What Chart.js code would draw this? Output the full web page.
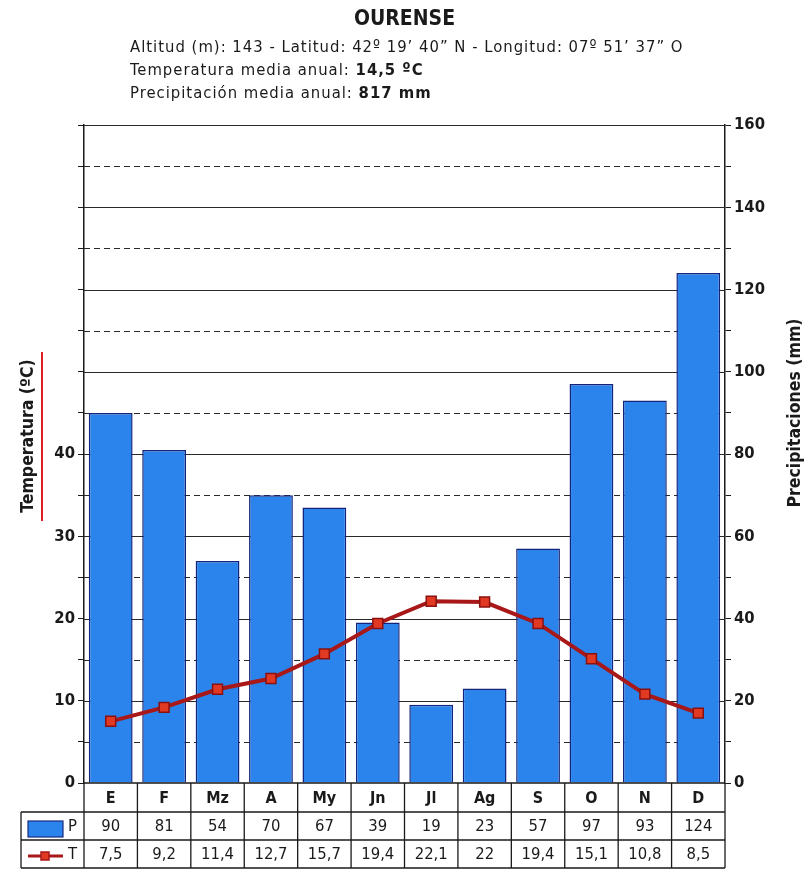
<!DOCTYPE html>
<html>
<head>
<meta charset="utf-8">
<script src="https://cdn.jsdelivr.net/npm/chart.js@4.4.0/dist/chart.umd.min.js"></script>
<style>
  html, body { margin: 0; padding: 0; background: #fff; }
  body { width: 809px; height: 869px; position: relative; overflow: hidden; font-family: "DejaVu Sans Condensed", "DejaVu Sans", sans-serif; color: #1a1a1a; }
  #head { position: absolute; left: 0; top: 0; width: 809px; }
  #head h1 { margin: 0; position: absolute; top: 6px; width: 809px; text-align: center; font-size: 21px; font-weight: bold; }
  #head .ln { position: absolute; left: 130px; font-size: 16.5px; letter-spacing: 1px; white-space: nowrap; }
  #wrap { position: absolute; left: 0; top: 0; width: 809px; height: 869px; }
</style>
</head>
<body>
<div id="wrap"><canvas id="chart"></canvas></div>
<div id="head">
  <h1>OURENSE</h1>
  <div class="ln" style="top:37px">Altitud (m): 143 - Latitud: 42º 19’ 40” N - Longitud: 07º 51’ 37” O</div>
  <div class="ln" style="top:60px">Temperatura media anual: <b>14,5 ºC</b></div>
  <div class="ln" style="top:83px">Precipitación media anual: <b>817 mm</b></div>
</div>
<script>
// climograma Ourense
const months = ["E", "F", "Mz", "A", "My", "Jn", "Jl", "Ag", "S", "O", "N", "D"];
const precip = [90, 81, 54, 70, 67, 39, 19, 23, 57, 97, 93, 124];
const temp = [7.5, 9.2, 11.4, 12.7, 15.7, 19.4, 22.1, 22, 19.4, 15.1, 10.8, 8.5];
const tempTicks = [0, 10, 20, 30, 40];
const precipTicks = [0, 20, 40, 60, 80, 100, 120, 140, 160];

const FONT = '"DejaVu Sans Condensed", "DejaVu Sans", sans-serif';
const BAR = "#2b84ec";
const LINE = "#a81818";

function fmt(v) {
  return String(v).replace(".", ",");
}

// horizontal grid: solid every 20 mm, dashed in between
const gridPlugin = {
  id: "grid",
  beforeDatasetsDraw(chart) {
    const { ctx, chartArea } = chart;
    const y = chart.scales.yP;
    ctx.save();
    ctx.strokeStyle = "#2a2a2a";
    ctx.lineWidth = 1.2;
    for (let v = 10; v <= 160; v += 10) {
      const py = Math.round(y.getPixelForValue(v)) + 0.5;
      ctx.setLineDash(v % 20 === 0 ? [] : [6, 4]);
      ctx.beginPath();
      ctx.moveTo(chartArea.left, py);
      ctx.lineTo(chartArea.right, py);
      ctx.stroke();
    }
    ctx.restore();
  }
};

// data table under the chart + axis titles
const tablePlugin = {
  id: "table",
  afterDraw(chart) {
    const { ctx, chartArea } = chart;
    const x = chart.scales.x;
    const half = (chartArea.right - chartArea.left) / months.length / 2;
    const r0 = chartArea.bottom, r1 = r0 + 29, r2 = r1 + 28, r3 = 868;
    const legL = 21;

    ctx.save();
    ctx.strokeStyle = "#1a1a1a";
    ctx.lineWidth = 1.3;
    ctx.setLineDash([]);
    ctx.beginPath();
    ctx.moveTo(chartArea.left, r0); ctx.lineTo(chartArea.right, r0);
    ctx.moveTo(legL, r1); ctx.lineTo(chartArea.right, r1);
    ctx.moveTo(legL, r2); ctx.lineTo(chartArea.right, r2);
    ctx.moveTo(legL, r3); ctx.lineTo(chartArea.right, r3);
    ctx.moveTo(legL, r1); ctx.lineTo(legL, r3);
    ctx.stroke();
    ctx.beginPath();
    for (let i = 0; i <= months.length; i++) {
      const px = i < months.length ? x.getPixelForValue(i) - half : x.getPixelForValue(months.length - 1) + half;
      ctx.moveTo(px, r0); ctx.lineTo(px, r3);
    }
    ctx.stroke();

    ctx.textAlign = "center";
    ctx.textBaseline = "middle";
    ctx.fillStyle = "#1a1a1a";
    months.forEach((m, i) => {
      const px = x.getPixelForValue(i);
      ctx.font = "bold 16px " + FONT;
      ctx.fillText(m, px, (r0 + r1) / 2 + 1);
      ctx.font = "16.5px " + FONT;
      ctx.fillText(String(precip[i]), px, (r1 + r2) / 2 + 1);
      ctx.fillText(fmt(temp[i]), px, (r2 + r3) / 2 + 1);
    });

    // legend keys
    ctx.fillStyle = BAR;
    ctx.strokeStyle = "#1a2a80";
    ctx.lineWidth = 1.2;
    ctx.fillRect(28, r1 + 9, 35, 16);
    ctx.strokeRect(28, r1 + 9, 35, 16);
    ctx.strokeStyle = LINE;
    ctx.lineWidth = 3;
    ctx.beginPath();
    ctx.moveTo(28, (r2 + r3) / 2 + 2); ctx.lineTo(63, (r2 + r3) / 2 + 2);
    ctx.stroke();
    ctx.fillStyle = "#e23a22";
    ctx.lineWidth = 1.5;
    ctx.fillRect(41, (r2 + r3) / 2 - 2, 8, 8);
    ctx.strokeRect(41, (r2 + r3) / 2 - 2, 8, 8);
    ctx.fillStyle = "#1a1a1a";
    ctx.font = "16.5px " + FONT;
    ctx.textAlign = "left";
    ctx.fillText("P", 68, (r1 + r2) / 2 + 1);
    ctx.fillText("T", 68, (r2 + r3) / 2 + 1);

    // axis titles
    ctx.font = "bold 17.5px " + FONT;
    ctx.textAlign = "center";
    ctx.save();
    ctx.translate(28, 436);
    ctx.rotate(-Math.PI / 2);
    ctx.fillText("Temperatura (ºC)", 0, 0);
    ctx.restore();
    ctx.strokeStyle = "#e02020";
    ctx.lineWidth = 2;
    ctx.beginPath();
    ctx.moveTo(42, 352); ctx.lineTo(42, 521);
    ctx.stroke();
    ctx.save();
    ctx.translate(795, 413);
    ctx.rotate(-Math.PI / 2);
    ctx.fillText("Precipitaciones (mm)", 0, 0);
    ctx.restore();
    ctx.restore();
  }
};

new Chart(document.getElementById("chart"), {
  data: {
    labels: months,
    datasets: [
      {
        type: "line",
        label: "T",
        data: temp,
        yAxisID: "yT",
        borderColor: LINE,
        borderWidth: 4,
        pointStyle: "rect",
        pointRadius: 7,
        pointBackgroundColor: "#e23a22",
        pointBorderColor: "#8a1010",
        pointBorderWidth: 1.5,
        tension: 0,
        order: 0
      },
      {
        type: "bar",
        label: "P",
        data: precip,
        yAxisID: "yP",
        backgroundColor: BAR,
        borderColor: "#14247a",
        borderWidth: 1.5,
        barPercentage: 0.82,
        categoryPercentage: 1,
        order: 1
      }
    ]
  },
  options: {
    responsive: true,
    maintainAspectRatio: false,
    animation: false,
    layout: { padding: { top: 125, bottom: 86, left: 0, right: 0 } },
    plugins: {
      legend: { display: false },
      tooltip: { enabled: false }
    },
    scales: {
      x: { display: false },
      yT: {
        position: "left",
        min: 0,
        max: 80,
        afterBuildTicks(scale) {
          const t = [];
          for (let v = 0; v <= 80; v += 5) t.push({ value: v });
          scale.ticks = t;
        },
        afterFit(scale) { scale.width = 84; },
        ticks: {
          font: { family: FONT, size: 16.5, weight: "bold" },
          color: "#1a1a1a",
          padding: 3,
          callback: (v) => (tempTicks.includes(v) ? String(v) : "")
        },
        grid: { drawOnChartArea: false, drawTicks: true, tickLength: 6, color: "#1a1a1a" },
        border: { color: "#1a1a1a", width: 1.5 }
      },
      yP: {
        position: "right",
        min: 0,
        max: 160,
        afterBuildTicks(scale) {
          const t = [];
          for (let v = 0; v <= 160; v += 10) t.push({ value: v });
          scale.ticks = t;
        },
        afterFit(scale) { scale.width = 84; },
        ticks: {
          font: { family: FONT, size: 16.5, weight: "bold" },
          color: "#1a1a1a",
          padding: 3,
          callback: (v) => (precipTicks.includes(v) ? String(v) : "")
        },
        grid: { drawOnChartArea: false, drawTicks: true, tickLength: 6, color: "#1a1a1a" },
        border: { color: "#1a1a1a", width: 1.5 }
      }
    }
  },
  plugins: [gridPlugin, tablePlugin]
});
</script>
</body>
</html>
